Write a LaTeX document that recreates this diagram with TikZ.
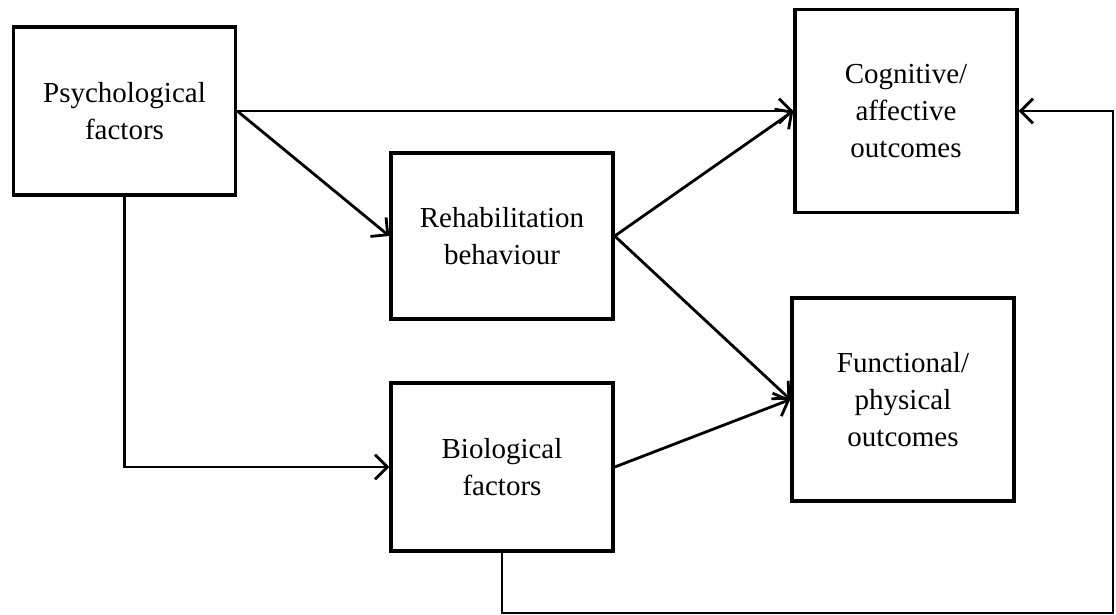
\documentclass[tikz,border=0pt]{standalone}
\usepackage{fontspec}
\setmainfont{Liberation Serif}
\usepackage{tikz}
\usetikzlibrary{arrows.meta, positioning}

\tikzset{
	block/.style={draw, line width=2pt, minimum width=4.44cm, align=center, inner sep=0pt,
		font=\fontsize{16.5}{21}\selectfont},
	link/.style={line width=1.6pt, -{Straight Barb[length=7pt, width=14pt, line width=1.6pt]}},
}

\begin{document}
\begin{tikzpicture}[x=0.02cm, y=-0.02cm]

\useasboundingbox (0,0) rectangle (1116,615);

\node[block, minimum height=3.36cm] (psych) at (124.5,111) {Psychological\\factors};
\node[block, minimum height=3.32cm] (rehab) at (502,236) {Rehabilitation\\behaviour};
\node[block, minimum height=3.36cm] (bio)   at (502,467) {Biological\\factors};
\node[block, minimum height=4.06cm] (cog)   at (906,111) {Cognitive/\\affective\\outcomes};
\node[block, minimum height=4.06cm] (func)  at (903,399.5) {Functional/\\physical\\outcomes};

\coordinate (loop) at (1113,613); % feedback corner

\draw[link] (psych.east) -- (psych.east -| cog.west); % direct path
\draw[link] (psych.east) -- (rehab.west);
\draw[link] (psych.south) |- (bio.west);
\draw[link] (rehab.east) -- (cog.west);
\draw[link] (rehab.east) -- (func.west);
\draw[link] (bio.east) -- (func.west);
\draw[link] (bio.south) |- (loop) |- (cog.east); % feedback

\end{tikzpicture}
\end{document}
